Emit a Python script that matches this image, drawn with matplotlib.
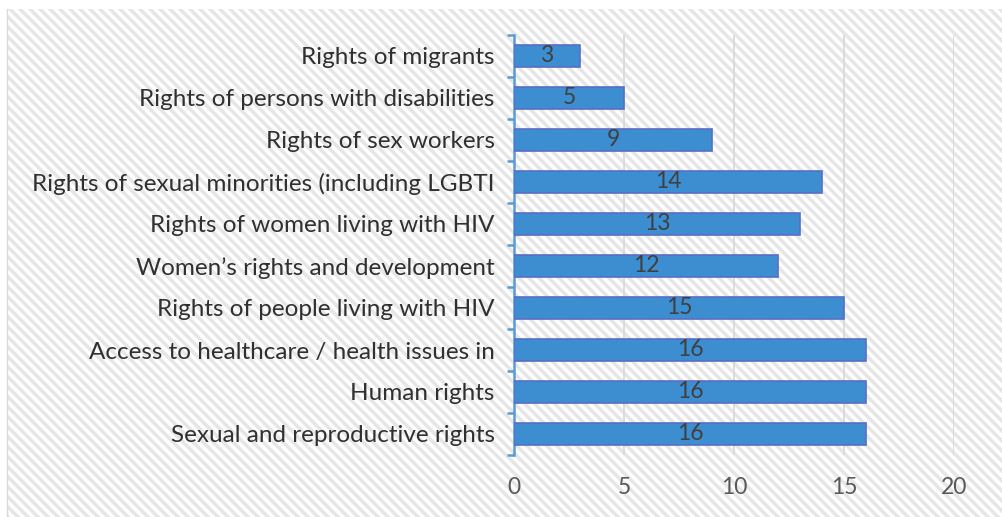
import matplotlib
matplotlib.use("Agg")
import matplotlib.pyplot as plt
import numpy as np
from matplotlib.lines import Line2D
from matplotlib.patches import Rectangle
from matplotlib.transforms import IdentityTransform

categories = [
    "Sexual and reproductive rights",
    "Human rights",
    "Access to healthcare / health issues in",
    "Rights of people living with HIV",
    "Women\u2019s rights and development",
    "Rights of women living with HIV",
    "Rights of sexual minorities (including LGBTI",
    "Rights of sex workers",
    "Rights of persons with disabilities",
    "Rights of migrants",
]
counts = [16, 16, 16, 15, 12, 13, 14, 9, 5, 3]
x_ticks = [0, 5, 10, 15, 20]

plt.rcParams["font.family"] = ["Lato", "DejaVu Sans"]

W, H = 1002, 517
fig = plt.figure(figsize=(W / 100, H / 100), dpi=100)
fig.patch.set_facecolor("white")

# diagonal striped backdrop (display coordinates, origin bottom-left)
x_left, y_top = 7, H - 9
clip = Rectangle((x_left, 0), W - x_left, y_top, transform=IdentityTransform())
period = 10
for x0 in np.arange(x_left - H - 20, W + 20, period):
    ln = Line2D([x0, x0 + H + 40], [y_top + 20, y_top - H - 20],
                transform=IdentityTransform(), color="#e6e6e6", lw=2.6,
                zorder=0.5, solid_capstyle="butt")
    ln.set_clip_path(clip)
    fig.add_artist(ln)
fig.add_artist(Line2D([x_left, x_left], [0, y_top], transform=IdentityTransform(),
                      color="#d9d9d9", lw=1.0, zorder=0.6))

ax = fig.add_axes([514 / W, 1 - 455 / H, (954 - 514) / W, (455 - 35) / H])
ax.set_facecolor("none")
ax.set_zorder(2)

y = np.arange(len(categories))
ax.barh(y, counts, height=0.52, color="#3d8ed1", edgecolor="#5b6ec4",
        linewidth=1.2, zorder=3)
for yi, v in zip(y, counts):
    ax.text(v / 2, yi, str(v), ha="center", va="center", fontsize=16.5,
            color="#404040", zorder=4)

ax.set_xlim(0, 20)
ax.set_ylim(-0.5, len(categories) - 0.5)
ax.set_xticks(x_ticks)
ax.set_yticks(y)
ax.set_yticklabels(categories)
ax.set_yticks(np.arange(-0.5, len(categories), 1.0), minor=True)

ax.grid(axis="x", color="#d9d9d9", lw=1.3, zorder=1)
for s in ["top", "right", "bottom"]:
    ax.spines[s].set_visible(False)
ax.spines["left"].set_color("#5b9bd5")
ax.spines["left"].set_linewidth(1.8)

ax.tick_params(axis="y", which="major", length=0, pad=14, labelsize=17.5,
               labelcolor="#303030")
ax.tick_params(axis="y", which="minor", length=5, width=1.8, color="#5b9bd5")
ax.tick_params(axis="x", length=0, pad=16, labelsize=16.5, labelcolor="#595959")

fig.savefig("out.png", dpi=100, facecolor=fig.get_facecolor())
